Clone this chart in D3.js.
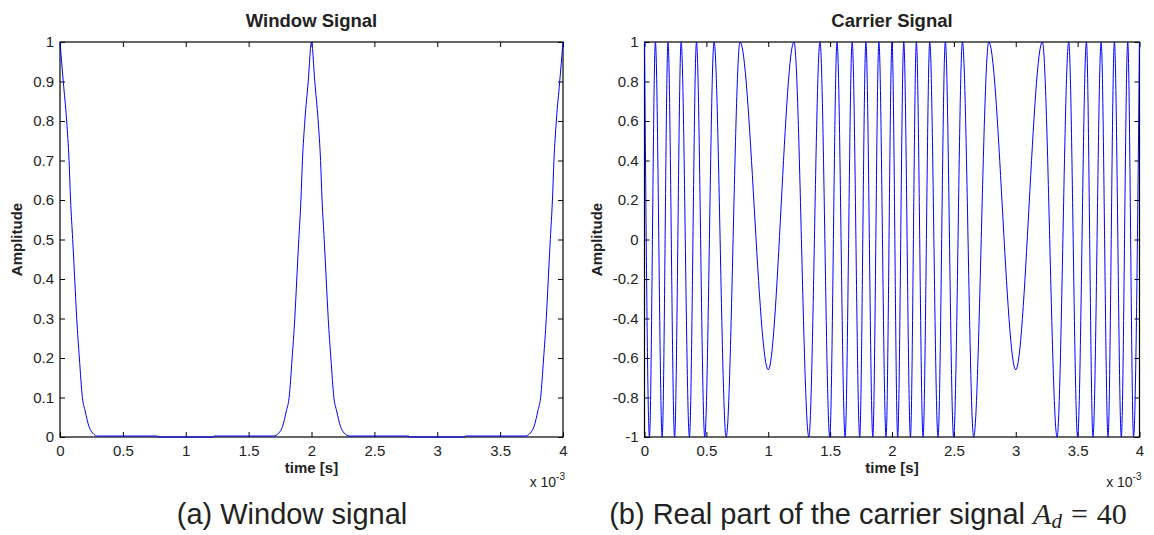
<!DOCTYPE html>
<html>
<head>
<meta charset="utf-8">
<script src="https://cdn.jsdelivr.net/npm/d3@7"></script>
<style>
  html, body { margin: 0; padding: 0; background: #fff; }
  svg { display: block; }
  text { font-family: "Liberation Sans", Arial, Helvetica, sans-serif; fill: #222; }
</style>
</head>
<body>
<svg id="chart" width="1154" height="535"></svg>
<script>
// ---------------- data ----------------
// time axis in units of 1e-3 s
const xTicks = [0, 0.5, 1, 1.5, 2, 2.5, 3, 3.5, 4];
const windowYTicks = [0, 0.1, 0.2, 0.3, 0.4, 0.5, 0.6, 0.7, 0.8, 0.9, 1];
const carrierYTicks = [-1, -0.8, -0.6, -0.4, -0.2, 0, 0.2, 0.4, 0.6, 0.8, 1];

// Window signal
const windowTime = [
  0, 0.026, 0.053, 0.072, 0.084, 0.101, 0.117, 0.133, 0.154, 0.178, 0.2, 0.23, 0.26, 0.3,
  0.775, 0.78, 1.22, 1.225,
  1.7, 1.74, 1.77, 1.8, 1.822, 1.846, 1.867, 1.883, 1.899, 1.916, 1.928, 1.947, 1.974, 2,
  2.026, 2.053, 2.072, 2.084, 2.101, 2.117, 2.133, 2.154, 2.178, 2.2, 2.23, 2.26, 2.3,
  2.775, 2.78, 3.22, 3.225,
  3.7, 3.74, 3.77, 3.8, 3.822, 3.846, 3.867, 3.883, 3.899, 3.916, 3.928, 3.947, 3.974, 4
];
const windowValue = [
  1, 0.9, 0.8, 0.7, 0.6, 0.5, 0.4, 0.3, 0.2, 0.1, 0.066, 0.027, 0.01, 0.0025,
  0.0025, 0, 0, 0.0025,
  0.0025, 0.01, 0.027, 0.066, 0.1, 0.2, 0.3, 0.4, 0.5, 0.6, 0.7, 0.8, 0.9, 1,
  0.9, 0.8, 0.7, 0.6, 0.5, 0.4, 0.3, 0.2, 0.1, 0.066, 0.027, 0.01, 0.0025,
  0.0025, 0, 0, 0.0025,
  0.0025, 0.01, 0.027, 0.066, 0.1, 0.2, 0.3, 0.4, 0.5, 0.6, 0.7, 0.8, 0.9, 1
];

// Carrier signal: extrema (peaks / troughs)
const carrierTime = [
  0, 0.04, 0.088, 0.143, 0.19, 0.243, 0.296, 0.363, 0.42, 0.487, 0.562, 0.66, 0.772,
  1.0,
  1.208, 1.328, 1.418, 1.497, 1.556, 1.621, 1.678, 1.739, 1.789, 1.845, 1.894, 1.952,
  2.0, 2.046, 2.095, 2.149, 2.197, 2.251, 2.305, 2.372, 2.431, 2.498, 2.569, 2.66, 2.782,
  3.0,
  3.215, 3.334, 3.428, 3.5, 3.571, 3.624, 3.69, 3.746, 3.797, 3.853, 3.905, 3.952, 4.0
];
const carrierValue = [
  1, -1, 1, -1, 1, -1, 1, -1, 1, -1, 1, -1, 1,
  -0.66,
  1, -1, 1, -1, 1, -1, 1, -1, 1, -1, 1, -1,
  1, -1, 1, -1, 1, -1, 1, -1, 1, -1, 1, -1, 1,
  -0.66,
  1, -1, 1, -1, 1, -1, 1, -1, 1, -1, 1, -1, 1
];

// ---------------- drawing ----------------
const svg = d3.select("#chart");

const panels = [
  { left: 60, right: 563, top: 42, bottom: 437,
    yDomain: [0, 1], yTicks: windowYTicks, title: "Window Signal",
    time: windowTime, value: windowValue, ylabelX: 17 },
  { left: 644.5, right: 1139.5, top: 42, bottom: 437,
    yDomain: [-1, 1], yTicks: carrierYTicks, title: "Carrier Signal",
    time: carrierTime, value: carrierValue, ylabelX: 597 }
];

panels.forEach(p => {
  const x = d3.scaleLinear().domain([0, 4]).range([p.left, p.right]);
  const y = d3.scaleLinear().domain(p.yDomain).range([p.bottom, p.top]);
  const g = svg.append("g");
  const cx = (p.left + p.right) / 2;

  // bottom axis
  const bx = g.append("g").attr("transform", `translate(0,${p.bottom})`)
    .call(d3.axisBottom(x).tickValues(xTicks).tickSizeInner(-5).tickSizeOuter(0)
      .tickPadding(8).tickFormat(d => String(d)));
  // top axis (ticks only)
  const tx = g.append("g").attr("transform", `translate(0,${p.top})`)
    .call(d3.axisTop(x).tickValues(xTicks).tickSizeInner(-5).tickSizeOuter(0).tickFormat(""));
  // left axis
  const ly = g.append("g").attr("transform", `translate(${p.left},0)`)
    .call(d3.axisLeft(y).tickValues(p.yTicks).tickSizeInner(-5).tickSizeOuter(0)
      .tickPadding(6).tickFormat(d => String(d)));
  // right axis (ticks only)
  const ry = g.append("g").attr("transform", `translate(${p.right},0)`)
    .call(d3.axisRight(y).tickValues(p.yTicks).tickSizeInner(-5).tickSizeOuter(0).tickFormat(""));

  [bx, tx, ly, ry].forEach(a => {
    a.select(".domain").remove();
    a.selectAll(".tick line").attr("stroke", "#000").attr("stroke-width", 1);
    a.selectAll(".tick text").style("font-size", "15px").attr("fill", "#1a1a1a")
      .style("font-family", '"Liberation Sans", Arial, sans-serif');
  });

  // box
  g.append("rect").attr("x", p.left).attr("y", p.top)
    .attr("width", p.right - p.left).attr("height", p.bottom - p.top)
    .attr("fill", "none").attr("stroke", "#000").attr("stroke-width", 1.2);

  // data line
  const pts = p.time.map((t, i) => [t, p.value[i]]);
  g.append("path").datum(pts)
    .attr("fill", "none").attr("stroke", "#0000ff").attr("stroke-width", 1)
    .attr("d", d3.line().x(d => x(d[0])).y(d => y(d[1])).curve(d3.curveMonotoneX));

  // title
  g.append("text").attr("x", cx).attr("y", 27).attr("text-anchor", "middle")
    .style("font-size", "18.5px").style("font-weight", "bold").attr("fill", "#111").text(p.title);
  // x label
  g.append("text").attr("x", cx).attr("y", 473).attr("text-anchor", "middle")
    .style("font-size", "15px").style("font-weight", "bold").attr("fill", "#111").text("time [s]");
  // exponent
  const ex = g.append("text").attr("x", p.right + 2).attr("y", 487).attr("text-anchor", "end")
    .style("font-size", "14px");
  ex.append("tspan").text("x 10");
  ex.append("tspan").attr("dy", -7).style("font-size", "10px").text("-3");
  // y label
  g.append("text")
    .attr("transform", `translate(${p.ylabelX},${(p.top + p.bottom) / 2}) rotate(-90)`)
    .attr("text-anchor", "middle").attr("dy", "0.35em")
    .style("font-size", "15px").style("font-weight", "bold").attr("fill", "#111").text("Amplitude");
});

// captions
svg.append("text").attr("x", 292).attr("y", 524).attr("text-anchor", "middle")
  .style("font-size", "29px").attr("fill", "#111").text("(a) Window signal");

const cap = svg.append("text").attr("x", 868).attr("y", 524).attr("text-anchor", "middle")
  .style("font-size", "29px").attr("fill", "#111");
cap.append("tspan").text("(b) Real part of the carrier signal ");
cap.append("tspan").style("font-family", '"Liberation Serif", "DejaVu Serif", serif')
  .style("font-style", "italic").style("font-size", "30px").text("A");
cap.append("tspan").style("font-family", '"Liberation Serif", "DejaVu Serif", serif')
  .style("font-style", "italic").style("font-size", "21px").attr("dy", 4).text("d");
cap.append("tspan").style("font-family", '"Liberation Serif", "DejaVu Serif", serif')
  .style("font-size", "30px").attr("dy", -4).attr("dx", 9).text("=");
cap.append("tspan").style("font-family", '"Liberation Serif", "DejaVu Serif", serif')
  .style("font-size", "30px").attr("dx", 9).text("40");
</script>
</body>
</html>
